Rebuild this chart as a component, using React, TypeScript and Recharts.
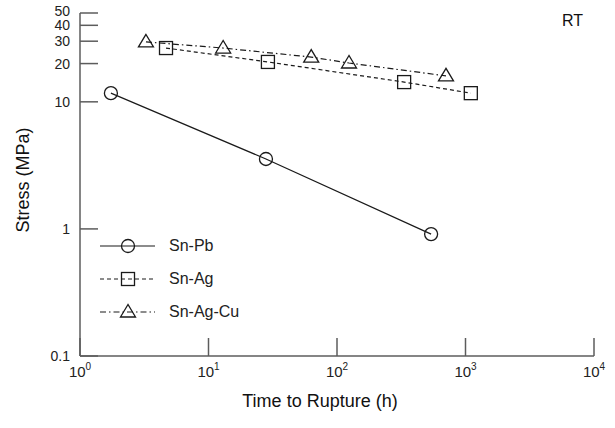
import React from 'react';
import { LineChart, Line, XAxis, YAxis, Legend } from 'recharts';

// rupture time (h) vs. applied stress (MPa) at room temperature
const snPbTime = [1.74, 28, 540];
const snPbStress = [11.7, 3.55, 0.91];

const snAgTime = [4.67, 29, 333, 1100];
const snAgStress = [26.5, 20.6, 14.3, 11.7];

const snAgCuTime = [3.26, 13, 63, 124, 705];
const snAgCuStress = [29.6, 26.5, 22.5, 20.2, 16.0];

const xTicks = [1, 10, 100, 1000, 10000];
const yTicks = [0.1, 1, 10, 20, 30, 40, 50];
const xTickPower = ['0', '1', '2', '3', '4'];

type Marker = 'circle' | 'square' | 'triangle';

const series: { name: string; time: number[]; stress: number[]; dash?: string; marker: Marker }[] = [
  { name: 'Sn-Pb', time: snPbTime, stress: snPbStress, marker: 'circle' },
  { name: 'Sn-Ag', time: snAgTime, stress: snAgStress, dash: '4 3', marker: 'square' },
  { name: 'Sn-Ag-Cu', time: snAgCuTime, stress: snAgCuStress, dash: '6 3 1.5 3', marker: 'triangle' },
];

const FONT = '"Liberation Sans", Arial, sans-serif';
const AXIS = '#5c5c5c';
const INK = '#1a1a1a';
const TICK_MARGIN = 8;
const TICK_LEN = 18;

const drawMarker = (kind: Marker, cx: number, cy: number, key?: string | number) => {
  const common = { fill: 'none', stroke: INK, strokeWidth: 1.3 };
  if (kind === 'circle') return <circle key={key} cx={cx} cy={cy} r={6.5} {...common} />;
  if (kind === 'square') return <rect key={key} x={cx - 6.5} y={cy - 6.5} width={13} height={13} {...common} />;
  return (
    <polygon
      key={key}
      points={`${cx},${cy - 7.5} ${cx - 7.5},${cy + 5} ${cx + 7.5},${cy + 5}`}
      {...common}
    />
  );
};

const YTick = (props: any) => {
  const { x, y, payload } = props;
  const axisX = x + TICK_MARGIN;
  // 50 sits right on top of 40 on the log axis, lift it a touch
  const shift = payload.value === 50 ? -2 : 0;
  return (
    <g>
      <line x1={axisX} y1={y} x2={axisX + TICK_LEN} y2={y} stroke={AXIS} strokeWidth={1.5} />
      <text x={x - 2} y={y + shift} dy={5} textAnchor="end" fontSize={14} fill="#222" fontFamily={FONT}>
        {payload.value}
      </text>
    </g>
  );
};

const XTick = (props: any) => {
  const { x, y, index } = props;
  const axisY = y - TICK_MARGIN;
  return (
    <g>
      <line x1={x} y1={axisY} x2={x} y2={axisY - TICK_LEN} stroke={AXIS} strokeWidth={1.5} />
      <text x={x} y={axisY + 21} textAnchor="middle" fontSize={15} fill="#222" fontFamily={FONT}>
        <tspan>10</tspan>
        <tspan dy={-7} fontSize={10}>{xTickPower[index]}</tspan>
      </text>
    </g>
  );
};

const LegendBox = () => (
  <div style={{ fontFamily: FONT, fontSize: 16, color: '#222' }}>
    {series.map((s) => (
      <div key={s.name} style={{ display: 'flex', alignItems: 'center', height: 33 }}>
        <svg width={73} height={20}>
          <line x1={4} y1={10} x2={59} y2={10} stroke={INK} strokeWidth={1.2} strokeDasharray={s.dash} />
          {drawMarker(s.marker, 32, 10)}
        </svg>
        <span>{s.name}</span>
      </div>
    ))}
  </div>
);

export default function App() {
  return (
    <div style={{ position: 'relative', width: 615, height: 428, background: '#fff' }}>
      <style>{'body { margin: 0; }'}</style>
      <LineChart width={615} height={428} margin={{ top: 13, right: 21, bottom: 12, left: 20 }}>
        <XAxis
          type="number"
          dataKey="time"
          scale="log"
          domain={[1, 10000]}
          ticks={xTicks}
          allowDataOverflow
          height={60}
          stroke={AXIS}
          strokeWidth={1.5}
          tickLine={false}
          tickSize={0}
          tickMargin={TICK_MARGIN}
          tick={<XTick />}
          interval={0}
          label={{
            content: () => (
              <text x={320} y={407} textAnchor="middle" fontSize={18} fill="#111" fontFamily={FONT}>
                Time to Rupture (h)
              </text>
            ),
          }}
        />
        <YAxis
          type="number"
          dataKey="stress"
          scale="log"
          domain={[0.1, 50]}
          ticks={yTicks}
          allowDataOverflow
          width={60}
          stroke={AXIS}
          strokeWidth={1.5}
          tickLine={false}
          tickSize={0}
          tickMargin={TICK_MARGIN}
          tick={<YTick />}
          interval={0}
          label={{
            content: () => (
              <text
                x={23}
                y={180}
                transform="rotate(-90 23 180)"
                dy={6}
                textAnchor="middle"
                fontSize={18}
                fill="#111"
                fontFamily={FONT}
              >
                Stress (MPa)
              </text>
            ),
          }}
        />
        {series.map((s) => (
          <Line
            key={s.name}
            name={s.name}
            data={s.time.map((t, i) => ({ time: t, stress: s.stress[i] }))}
            dataKey="stress"
            type="linear"
            stroke={INK}
            strokeWidth={1.2}
            strokeDasharray={s.dash}
            dot={(p: any) => drawMarker(s.marker, p.cx, p.cy, p.index)}
            activeDot={false}
            isAnimationActive={false}
          />
        ))}
        <Legend
          layout="horizontal"
          verticalAlign="middle"
          align="center"
          content={() => <LegendBox />}
          wrapperStyle={{ left: 96, top: 229, width: 200, height: 100 }}
        />
      </LineChart>
      <div
        style={{
          position: 'absolute',
          left: 562,
          top: 12,
          fontFamily: FONT,
          fontSize: 16,
          color: '#111',
        }}
      >
        RT
      </div>
    </div>
  );
}
